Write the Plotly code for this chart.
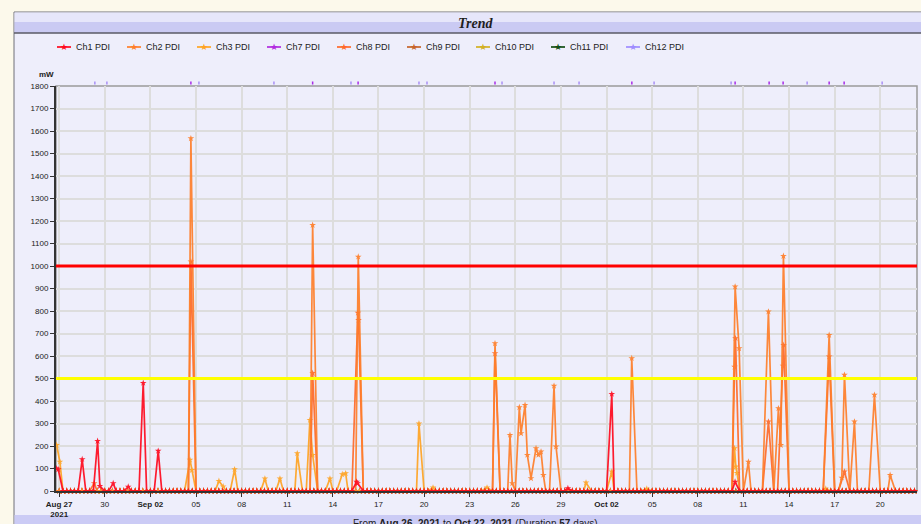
import pandas as pd
import plotly.graph_objects as go

# ---------------- data ----------------
CH1_TIMES = ["2021-08-26 20:00", "2021-08-26 22:30", "2021-08-28 12:20", "2021-08-29 12:40",
             "2021-08-29 16:15", "2021-08-30 13:15", "2021-08-31 13:00", "2021-09-01 12:40",
             "2021-09-02 12:20", "2021-09-15 13:30", "2021-09-15 15:00", "2021-09-29 11:00",
             "2021-10-02 08:15", "2021-10-10 10:50"]
CH1_VALUES = [100, 96, 141, 222, 22, 34, 19, 480, 178, 41, 34, 12, 431, 41]

CH2_TIMES = ["2021-09-04 15:55", "2021-09-12 16:05", "2021-09-15 16:05", "2021-09-24 15:55",
             "2021-09-25 15:35", "2021-09-25 19:10", "2021-09-26 06:20", "2021-09-26 09:00",
             "2021-09-26 15:20", "2021-09-26 18:55", "2021-09-27 00:45", "2021-09-27 08:40",
             "2021-09-27 12:20", "2021-09-27 16:35", "2021-09-27 20:15", "2021-09-28 13:05",
             "2021-09-28 16:15", "2021-10-03 15:45", "2021-10-10 10:55", "2021-10-10 17:15",
             "2021-10-11 07:55", "2021-10-12 15:30", "2021-10-13 07:15", "2021-10-13 11:05",
             "2021-10-13 15:10", "2021-10-16 15:20", "2021-10-17 11:20", "2021-10-17 15:30",
             "2021-10-18 07:15", "2021-10-19 14:50", "2021-10-20 15:35"]
CH2_VALUES = [1567, 1182, 1041, 656, 249, 34, 372, 256, 382, 160, 56, 190, 160, 175, 71, 467,
              197, 590, 908, 634, 130, 797, 367, 204, 1044, 693, 59, 516, 308, 427, 71]

CH3_TIMES = ["2021-08-26 20:00", "2021-08-27 01:05", "2021-09-04 14:30", "2021-09-04 17:30",
             "2021-09-06 12:10", "2021-09-06 18:55", "2021-09-07 12:55", "2021-09-09 12:45",
             "2021-09-10 12:30", "2021-09-11 15:45", "2021-09-12 11:45", "2021-09-12 16:05",
             "2021-09-13 19:25", "2021-09-14 14:50", "2021-09-14 20:15", "2021-09-19 15:55",
             "2021-09-20 14:05", "2021-09-24 03:20", "2021-09-30 15:35", "2021-10-02 08:15",
             "2021-10-04 15:30", "2021-10-10 10:00", "2021-10-10 12:00", "2021-10-10 14:00",
             "2021-10-16 10:00"]
CH3_VALUES = [204, 130, 138, 93, 44, 20, 96, 55, 55, 167, 315, 160, 55, 74, 78, 300,
              15, 15, 37, 86, 10, 190, 108, 80, 10]

CH8_TIMES = ["2021-08-29 07:15", "2021-09-04 15:55", "2021-09-12 16:05", "2021-09-15 15:30",
             "2021-09-15 16:30", "2021-09-24 15:55", "2021-10-10 10:00", "2021-10-10 11:30",
             "2021-10-12 15:30", "2021-10-13 14:30", "2021-10-13 15:30", "2021-10-16 15:20",
             "2021-10-17 15:30"]
CH8_VALUES = [34, 1020, 524, 792, 760, 612, 552, 679, 308, 556, 649, 597, 86]

# event ticks shown just above the plot area
CH7_EVENT_TIMES = ["2021-09-04 15:55", "2021-09-12 16:05", "2021-09-15 15:50", "2021-09-24 15:55",
                   "2021-10-03 15:55", "2021-10-10 10:55", "2021-10-12 16:35", "2021-10-13 14:40",
                   "2021-10-16 15:20", "2021-10-17 15:00"]
CH12_EVENT_TIMES = ["2021-08-29 08:20", "2021-08-30 03:20", "2021-09-05 04:35", "2021-09-10 03:00",
                    "2021-09-15 04:35", "2021-09-19 15:55", "2021-09-20 04:35", "2021-09-25 03:00",
                    "2021-09-28 13:05", "2021-09-30 04:35", "2021-10-05 03:00", "2021-10-10 04:35",
                    "2021-10-15 04:35", "2021-10-20 03:00"]

CH9_TIMES, CH9_VALUES = [], []
CH10_TIMES, CH10_VALUES = [], []
CH11_TIMES, CH11_VALUES = [], []

LEGEND_NAMES = ["Ch1 PDI", "Ch2 PDI", "Ch3 PDI", "Ch7 PDI", "Ch8 PDI", "Ch9 PDI",
                "Ch10 PDI", "Ch11 PDI", "Ch12 PDI"]
LEGEND_COLORS = ["#FF0A1E", "#FF7F2A", "#FFA424", "#B22BE0", "#FF6A2A", "#C6642A",
                 "#D2B022", "#124D12", "#9F8CFF"]

THRESHOLD_VALUES = [1000, 500]
THRESHOLD_COLORS = ["#FF0000", "#FFFF00"]

X_TICK_DATES = ["2021-08-27", "2021-08-30", "2021-09-02", "2021-09-05", "2021-09-08",
                "2021-09-11", "2021-09-14", "2021-09-17", "2021-09-20", "2021-09-23",
                "2021-09-26", "2021-09-29", "2021-10-02", "2021-10-05", "2021-10-08",
                "2021-10-11", "2021-10-14", "2021-10-17", "2021-10-20"]
X_TICK_LABELS = ["<b>Aug 27<br>2021</b>", "30", "<b>Sep 02</b>", "05", "08", "11", "14", "17",
                 "20", "23", "26", "29", "<b>Oct 02</b>", "05", "08", "11", "14", "17", "20"]
Y_TICKS = list(range(0, 1801, 100))

X_RANGE = ["2021-08-26 19:00", "2021-10-22 10:00"]
SAMPLE_STEP = "6h"

# ---------------- build series ----------------
grid = pd.date_range("2021-08-26 18:00", "2021-10-22 12:00", freq=SAMPLE_STEP)


def with_baseline(times, values, exclude_hours=3.5):
    t = pd.to_datetime(pd.Series(times, dtype="object"))
    pts = {}
    for g in grid:
        if len(t) == 0 or (abs(t - g).min() > pd.Timedelta(hours=exclude_hours)):
            pts[g] = 0
    for tt, v in zip(t, values):
        pts[tt] = v
    s = pd.Series(pts).sort_index()
    return list(s.index), list(s.values)


FONT = "Liberation Sans, Arial, sans-serif"
color_of = dict(zip(LEGEND_NAMES, LEGEND_COLORS))
fig = go.Figure()

# drawing order: Ch1 last so the red baseline is on top
series = [
    ("Ch11 PDI", CH11_TIMES, CH11_VALUES),
    ("Ch10 PDI", CH10_TIMES, CH10_VALUES),
    ("Ch9 PDI", CH9_TIMES, CH9_VALUES),
    ("Ch3 PDI", CH3_TIMES, CH3_VALUES),
    ("Ch8 PDI", CH8_TIMES, CH8_VALUES),
    ("Ch2 PDI", CH2_TIMES, CH2_VALUES),
    ("Ch1 PDI", CH1_TIMES, CH1_VALUES),
]
for name, times, values in series:
    xs, ys = with_baseline(times, values)
    color = color_of[name]
    fig.add_trace(go.Scatter(
        x=xs, y=ys, name=name, mode="lines+markers", showlegend=False,
        line=dict(color=color, width=1.7),
        marker=dict(symbol="star", size=5, color=color, line=dict(width=0)),
        cliponaxis=False, opacity=0.92,
    ))

# threshold lines
for val, col in zip(THRESHOLD_VALUES, THRESHOLD_COLORS):
    fig.add_shape(type="line", xref="paper", yref="y", x0=0, x1=1, y0=val, y1=val,
                  line=dict(color=col, width=3), layer="above")

# ---------------- chrome (panel, title bar, footer, legend) ----------------
L, R, T, B = 56, 4, 86, 33
W, H = 921, 524
PW, PH = W - L - R, H - T - B


def px(xp):
    return (xp - L) / PW


def py(yp):
    return (H - B - yp) / PH


# event ticks above the plot (x from data via the date axis)
for times, col in ((CH12_EVENT_TIMES, "#A98FF5"), (CH7_EVENT_TIMES, "#A82BE8")):
    for t in times:
        fig.add_shape(type="line", xref="x", yref="paper", x0=t, x1=t, y0=py(84.5), y1=py(81.5),
                      line=dict(color=col, width=1.5), layer="above")

shapes = [
    dict(type="rect", xref="paper", yref="paper", x0=px(14), x1=px(930), y0=py(540), y1=py(12),
         fillcolor="#EEEEFB", line=dict(color="#6E6E78", width=1), layer="below"),
    dict(type="rect", xref="paper", yref="paper", x0=px(14.5), x1=px(930), y0=py(22), y1=py(12.5),
         fillcolor="#E6E6FA", line=dict(width=0), layer="below"),
    dict(type="rect", xref="paper", yref="paper", x0=px(14.5), x1=px(930), y0=py(33), y1=py(22),
         fillcolor="#CACAF3", line=dict(width=0), layer="below"),
    dict(type="line", xref="paper", yref="paper", x0=px(14), x1=px(930), y0=py(33), y1=py(33),
         line=dict(color="#5A5A66", width=1.5), layer="below"),
    dict(type="rect", xref="paper", yref="paper", x0=px(14.5), x1=px(930), y0=py(540), y1=py(515),
         fillcolor="#CBCBF5", line=dict(width=0), layer="below"),
    dict(type="rect", xref="paper", yref="paper", x0=0, x1=1, y0=0, y1=1,
         line=dict(color="#9A9A9A", width=1.5), fillcolor="rgba(0,0,0,0)", layer="below"),
]
for s in shapes:
    fig.add_shape(**s)

# custom legend row (short line + star glyph + label)
LEGEND_X = [57, 127, 197, 267, 337, 407, 476, 551, 626]
LEGEND_Y = 47
for name, col, x0 in zip(LEGEND_NAMES, LEGEND_COLORS, LEGEND_X):
    fig.add_shape(type="line", xref="paper", yref="paper", x0=px(x0), x1=px(x0 + 14),
                  y0=py(LEGEND_Y), y1=py(LEGEND_Y), line=dict(color=col, width=1.7))
    fig.add_annotation(text="★", xref="paper", yref="paper", x=px(x0 + 7), y=py(LEGEND_Y - 0.5),
                       showarrow=False, xanchor="center", yanchor="middle",
                       font=dict(family="DejaVu Sans", size=9, color=col))
    fig.add_annotation(text=name, xref="paper", yref="paper", x=px(x0 + 17), y=py(LEGEND_Y),
                       showarrow=False, xanchor="left", yanchor="middle",
                       font=dict(family=FONT, size=9, color="#222"))

fig.add_annotation(text="<b><i>Trend</i></b>", xref="paper", yref="paper",
                   x=px(475), y=py(23), showarrow=False, xanchor="center", yanchor="middle",
                   font=dict(family="Liberation Serif, Times New Roman, serif", size=14, color="#1E1E1E"))
fig.add_annotation(text="<b>mW</b>", xref="paper", yref="paper", x=px(46), y=py(75),
                   showarrow=False, xanchor="center", yanchor="middle",
                   font=dict(family=FONT, size=8, color="#222"))
fig.add_annotation(text="From <b>Aug 26, 2021</b> to <b>Oct 22, 2021</b> (Duration <b>57</b> days)",
                   xref="paper", yref="paper", x=px(475), y=py(516), showarrow=False,
                   xanchor="center", yanchor="top",
                   font=dict(family=FONT, size=10, color="#222"))

fig.update_layout(
    width=W, height=H,
    margin=dict(l=L, r=R, t=T, b=B, pad=0),
    paper_bgcolor="#FCF9EB",
    plot_bgcolor="#FFFFFF",
    font=dict(family=FONT, size=8, color="#222"),
    showlegend=False,
    xaxis=dict(type="date", range=X_RANGE, tickvals=X_TICK_DATES, ticktext=X_TICK_LABELS,
               showgrid=True, gridcolor="#DDDDDD", gridwidth=1.5,
               showline=True, linecolor="#333", linewidth=2,
               ticks="outside", ticklen=4, tickcolor="#333",
               tickfont=dict(family=FONT, size=8, color="#222"), zeroline=False),
    yaxis=dict(range=[0, 1800], tickvals=Y_TICKS, ticktext=[str(v) for v in Y_TICKS],
               showgrid=True, gridcolor="#DDDDDD", gridwidth=1.5,
               showline=True, linecolor="#333", linewidth=2,
               ticks="outside", ticklen=4, tickcolor="#333",
               tickfont=dict(family=FONT, size=8, color="#222"), zeroline=False),
)

fig.write_html("out.html", config={"displayModeBar": False},
               post_script="document.body.style.margin='0';document.body.style.overflow='hidden';")
